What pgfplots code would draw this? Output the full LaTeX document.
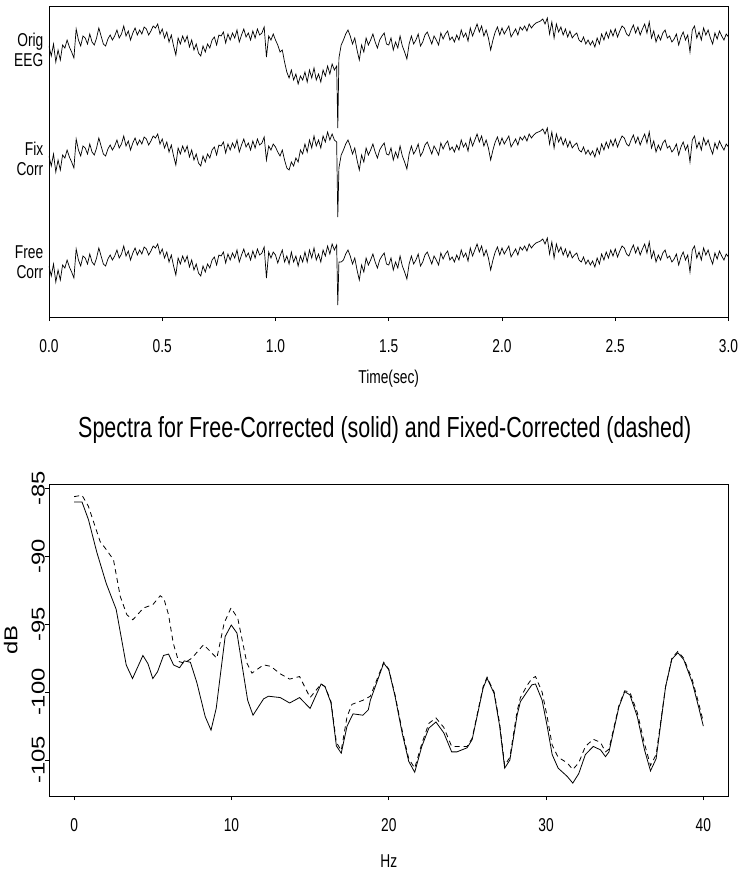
\documentclass[border=0pt]{standalone}
\usepackage{fontspec}
\setmainfont{Liberation Sans}[FakeStretch=0.74]
\newfontfamily\rotfont{Liberation Sans}[FakeStretch=1.28]
\usepackage{pgfplots}
\usepackage{pgfplotstable}
\pgfplotsset{compat=1.18}
\newcommand{\lab}{\fontsize{18.6}{20}\selectfont}
\newcommand{\rlab}{\rotfont\fontsize{18.6}{20}\selectfont}

\pgfplotstableread{
t o f r
0.00 46 156 266
0.01 56 166 276
0.02 44 154 264
0.03 62 172 282
0.04 50 160 270
0.05 60 170 280
0.06 45 155 265
0.07 48 158 268
0.08 40 150 260
0.09 47 157 267
0.10 52 162 272
0.11 58 168 278
0.12 29 139 249
0.13 40 150 260
0.14 46 156 266
0.15 36 146 256
0.16 38 148 258
0.17 44 154 264
0.18 34 144 254
0.19 42 152 262
0.20 45 155 265
0.21 38 148 258
0.22 28 138 248
0.23 36 146 256
0.24 44 154 264
0.25 46 156 266
0.26 39 149 259
0.27 35 145 255
0.28 40 150 260
0.29 36 146 256
0.30 30 140 250
0.31 38 148 258
0.32 34 144 254
0.33 26 136 246
0.34 36 146 256
0.35 31 141 251
0.36 40 150 260
0.37 33 143 253
0.38 28 138 248
0.39 35 145 255
0.40 30 140 250
0.41 34 144 254
0.42 27 137 247
0.43 29 139 249
0.44 35 145 255
0.45 31 141 251
0.46 26 136 246
0.47 28 138 248
0.48 24 134 244
0.49 34 144 254
0.50 29 139 249
0.51 38 148 258
0.52 32 142 252
0.53 42 152 262
0.54 35 145 255
0.55 46 156 266
0.56 55 165 275
0.57 38 148 258
0.58 44 154 264
0.59 36 146 256
0.60 42 152 262
0.61 36 146 256
0.62 47 157 267
0.63 40 150 260
0.64 50 160 270
0.65 44 154 264
0.66 53 163 273
0.67 56 166 276
0.68 46 156 266
0.69 52 162 272
0.70 44 154 264
0.71 48 158 268
0.72 40 150 260
0.73 37 147 257
0.74 45 155 265
0.75 35 145 255
0.76 36 146 256
0.77 32 142 252
0.78 43 153 263
0.79 34 144 254
0.80 40 150 260
0.81 33 143 253
0.82 38 148 258
0.83 30 140 250
0.84 42 152 262
0.85 35 145 255
0.86 29 139 249
0.87 37 147 257
0.88 33 143 253
0.89 40 150 260
0.90 31 141 251
0.91 38 148 258
0.92 29 139 249
0.93 35 145 255
0.94 33 143 253
0.95 27 137 247
0.96 57 160 278
0.97 36 146 252
0.98 40 150 258
0.99 34 144 252
1.00 40 147 255
1.01 45 152 263
1.02 52 156 256
1.03 50 150 250
1.04 62 160 262
1.05 72 168 256
1.06 78 170 264
1.07 70 162 252
1.08 80 166 262
1.09 74 158 256
1.10 84 162 266
1.11 76 150 256
1.12 80 154 262
1.13 72 144 252
1.14 82 152 262
1.15 70 140 250
1.16 78 148 258
1.17 68 136 248
1.18 80 146 260
1.19 74 140 254
1.20 82 148 262
1.21 70 136 250
1.22 76 142 256
1.23 66 132 246
1.24 74 140 254
1.25 64 134 244
1.26 70 140 250
1.27 66 142 245
1.275 128 217 305
1.28 58 168 262
1.29 45 155 262
1.30 40 150 260
1.31 34 144 254
1.32 30 140 250
1.33 36 146 256
1.34 44 154 264
1.35 38 148 258
1.36 50 160 270
1.37 60 170 280
1.38 45 155 265
1.39 52 162 272
1.40 38 148 258
1.41 45 155 265
1.42 40 150 260
1.43 34 144 254
1.44 42 152 262
1.45 48 158 268
1.46 40 150 260
1.47 36 146 256
1.48 33 143 253
1.49 44 154 264
1.50 45 155 265
1.51 38 148 258
1.52 50 160 270
1.53 42 152 262
1.54 48 158 268
1.55 36 146 256
1.56 46 156 266
1.57 52 162 272
1.58 59 169 279
1.59 44 154 264
1.60 36 146 256
1.61 44 154 264
1.62 40 150 260
1.63 34 144 254
1.64 46 156 266
1.65 42 152 262
1.66 35 145 255
1.67 32 142 252
1.68 38 148 258
1.69 44 154 264
1.70 36 146 256
1.71 40 150 260
1.72 45 155 265
1.73 33 143 253
1.74 39 149 259
1.75 34 144 254
1.76 31 141 251
1.77 40 150 260
1.78 37 147 257
1.79 42 152 262
1.80 35 145 255
1.81 40 150 260
1.82 30 140 250
1.83 37 147 257
1.84 33 143 253
1.85 41 151 261
1.86 28 138 248
1.87 36 146 256
1.88 30 140 250
1.89 24 134 244
1.90 32 142 252
1.91 26 136 246
1.92 36 146 256
1.93 30 140 250
1.94 38 148 258
1.95 50 160 270
1.96 40 150 260
1.97 32 142 252
1.98 27 137 247
1.99 35 145 255
2.00 28 138 248
2.01 34 144 254
2.02 30 140 250
2.03 26 136 246
2.04 37 147 257
2.05 33 143 253
2.06 29 139 249
2.07 35 145 255
2.08 27 137 247
2.09 30 140 250
2.10 26 136 246
2.11 31 141 251
2.12 24 134 244
2.13 28 138 248
2.14 25 135 245
2.15 23 133 243
2.16 22 132 242
2.17 21 131 241
2.18 19 129 239
2.19 24 134 244
2.20 18 128 238
2.21 34 144 254
2.22 22 132 242
2.23 38 148 258
2.24 24 134 244
2.25 32 142 252
2.26 27 137 247
2.27 35 145 255
2.28 29 139 249
2.29 37 147 257
2.30 31 141 251
2.31 38 148 258
2.32 35 145 255
2.33 33 143 253
2.34 40 150 260
2.35 42 152 262
2.36 37 147 257
2.37 44 154 264
2.38 40 150 260
2.39 45 155 265
2.40 41 151 261
2.41 47 157 267
2.42 38 148 258
2.43 44 154 264
2.44 34 144 254
2.45 40 150 260
2.46 32 142 252
2.47 38 148 258
2.48 30 140 250
2.49 36 146 256
2.50 29 139 249
2.51 37 147 257
2.52 31 141 251
2.53 26 136 246
2.54 28 138 248
2.55 34 144 254
2.56 36 146 256
2.57 30 140 250
2.58 25 135 245
2.59 33 143 253
2.60 27 137 247
2.61 35 145 255
2.62 29 139 249
2.63 24 134 244
2.64 33 143 253
2.65 22 132 242
2.66 38 148 258
2.67 31 141 251
2.68 42 152 262
2.69 35 145 255
2.70 40 150 260
2.71 33 143 253
2.72 30 140 250
2.73 38 148 258
2.74 36 146 256
2.75 42 152 262
2.76 39 149 259
2.77 34 144 254
2.78 45 155 265
2.79 37 147 257
2.80 32 142 252
2.81 40 150 260
2.82 35 145 255
2.83 52 162 272
2.84 30 140 250
2.85 26 136 246
2.86 38 148 258
2.87 32 142 252
2.88 40 150 260
2.89 28 138 248
2.90 35 145 255
2.91 30 140 250
2.92 38 148 258
2.93 44 154 264
2.94 33 143 253
2.95 39 149 259
2.96 31 141 251
2.97 36 146 256
2.98 40 150 260
2.99 34 144 254
3.00 37 147 257
}\eeg

\pgfplotstableread{
hz db
0.0 -86.0
0.5 -86.0
0.91 -87.3
1.44 -89.7
2.04 -92.0
2.67 -93.9
3.31 -98.0
3.71 -99.0
4.37 -97.3
4.69 -97.9
5.0 -99.0
5.3 -98.5
5.68 -97.3
6.0 -97.2
6.32 -98.0
6.7 -98.2
7.0 -97.7
7.39 -97.8
7.8 -99.3
8.33 -101.8
8.7 -102.8
9.03 -101.2
9.6 -95.9
9.99 -95.06
10.35 -95.65
11.03 -100.6
11.37 -101.7
12.04 -100.5
12.35 -100.3
13.1 -100.4
13.7 -100.8
14.33 -100.4
15.0 -101.2
15.7 -99.4
15.95 -99.6
16.33 -100.8
16.67 -103.96
16.98 -104.5
17.35 -102.5
17.73 -101.6
18.36 -101.7
18.7 -101.3
18.83 -100.6
19.68 -97.86
20.0 -98.35
20.4 -100.3
20.85 -103.0
21.27 -105.1
21.65 -105.9
22.1 -104.0
22.55 -102.65
23.0 -102.2
23.5 -103.0
24.0 -104.4
24.33 -104.4
24.98 -104.1
25.3 -103.5
26.0 -99.7
26.25 -98.97
26.7 -100.1
27.05 -102.5
27.37 -105.6
27.7 -105.0
28.16 -101.7
28.37 -100.7
28.8 -99.96
29.1 -99.46
29.33 -99.4
29.75 -100.6
30.07 -102.5
30.39 -104.6
30.77 -105.6
31.34 -106.2
31.7 -106.7
32.08 -106.0
32.5 -104.6
33.0 -104.0
33.46 -104.25
33.78 -104.75
34.0 -104.4
34.63 -101.1
35.0 -99.96
35.33 -100.2
35.8 -101.8
36.26 -104.25
36.64 -105.8
37.0 -104.9
37.6 -99.6
38.0 -97.57
38.38 -97.1
38.75 -97.6
39.3 -99.3
39.7 -101.1
40.0 -102.5
}\freespec

\pgfplotstableread{
hz db
0.0 -85.6
0.5 -85.5
0.9 -86.3
1.19 -87.3
1.65 -88.9
2.04 -89.5
2.5 -90.25
2.93 -92.95
3.35 -94.3
3.73 -94.67
4.41 -93.8
5.0 -93.56
5.47 -92.9
5.7 -93.1
6.0 -94.3
6.3 -96.4
6.64 -97.74
7.0 -97.86
7.48 -97.5
8.23 -96.5
8.65 -97.0
9.07 -97.5
9.54 -94.9
9.97 -93.8
10.4 -94.55
10.98 -97.86
11.3 -98.6
12.04 -97.99
12.5 -98.1
13.1 -98.65
13.7 -99.04
14.33 -98.85
15.0 -100.4
15.7 -99.4
15.95 -99.6
16.33 -100.7
16.67 -103.7
16.98 -104.3
17.35 -101.8
17.66 -100.9
18.36 -100.6
18.83 -100.3
19.68 -97.8
20.0 -98.3
20.4 -100.2
20.85 -102.8
21.27 -104.9
21.65 -105.6
22.1 -103.8
22.55 -102.3
23.0 -101.9
23.5 -102.6
24.0 -104.0
24.33 -104.0
24.98 -104.0
25.3 -103.4
26.0 -99.6
26.25 -98.9
26.7 -100.0
27.05 -102.3
27.37 -105.4
27.7 -104.8
28.16 -101.4
28.37 -100.4
28.8 -99.5
29.1 -99.0
29.33 -98.85
29.75 -100.0
30.07 -101.8
30.39 -103.9
30.77 -104.8
31.34 -105.2
31.7 -105.7
32.08 -105.2
32.5 -104.0
33.0 -103.47
33.46 -103.7
33.78 -104.4
34.0 -104.2
34.63 -101.0
35.0 -99.9
35.33 -100.0
35.8 -101.5
36.26 -103.8
36.64 -105.4
37.0 -104.6
37.6 -99.6
38.0 -97.5
38.38 -97.0
38.75 -97.5
39.3 -99.1
39.7 -100.8
40.0 -102.2
}\fixspec

\begin{document}
\begin{tikzpicture}
\useasboundingbox (0,0) rectangle (739pt,871pt);
% top panel: EEG traces
\begin{axis}[
  at={(49pt,554pt)}, anchor=south west,
  scale only axis, width=679.5pt, height=311pt,
  xmin=0, xmax=3, ymin=6, ymax=317, y dir=reverse,
  axis line style={line width=0.9pt},
  tick align=outside, major tick length=4pt,
  tick style={line width=0.8pt, black},
  xtick={0,0.5,1,1.5,2,2.5,3},
  xticklabels={0.0,0.5,1.0,1.5,2.0,2.5,3.0},
  xtick pos=bottom,
  xticklabel style={font=\lab, anchor=base, inner sep=0pt, yshift=-31pt},
  ytick={50,159,262},
  yticklabels={{Orig\\EEG},{Fix\\Corr},{Free\\Corr}},
  ytick style={draw=none},
  yticklabel style={font=\lab, align=right, anchor=east, inner sep=0pt, xshift=-1.5pt},
  xlabel={Time(sec)},
  xlabel style={font=\lab, at={(axis description cs:0.5,0)}, anchor=base, yshift=-66pt},
]
\addplot[black, line width=0.7pt] table[x=t, y=o] {\eeg};
\addplot[black, line width=0.7pt] table[x=t, y=f] {\eeg};
\addplot[black, line width=0.7pt] table[x=t, y=r] {\eeg};
\end{axis}
% bottom panel: spectra
\begin{axis}[
  at={(49pt,75pt)}, anchor=south west,
  scale only axis, width=679.5pt, height=312pt,
  xmin=-1.6, xmax=41.6, ymin=-107.65, ymax=-84.67,
  axis line style={line width=0.9pt},
  tick align=outside, major tick length=4pt,
  tick style={line width=0.8pt, black},
  xtick={0,10,20,30,40}, xticklabels={0,10,20,30,40},
  xtick pos=bottom, ytick pos=left,
  xticklabel style={font=\lab, anchor=base, inner sep=0pt, yshift=-31pt},
  ytick={-105,-100,-95,-90,-85},
  yticklabels={-105,-100,-95,-90,-85},
  yticklabel style={font=\rlab, rotate=90, anchor=south, inner sep=0pt},
  xlabel={Hz},
  xlabel style={font=\lab, at={(axis description cs:0.5,0)}, anchor=base, yshift=-71pt},
  ylabel={dB},
  ylabel style={font=\rlab, inner sep=0pt, at={(axis description cs:-0.046,0.5)}, anchor=south},
  title={Spectra for Free-Corrected (solid) and Fixed-Corrected (dashed)},
  title style={font=\fontsize{29}{32}\selectfont, at={(axis description cs:0.5,1)}, anchor=base, yshift=40pt, xshift=-4pt},
]
\addplot[black, line width=0.8pt] table[x=hz, y=db] {\freespec};
\addplot[black, line width=0.8pt, dash pattern=on 5pt off 4pt] table[x=hz, y=db] {\fixspec};
\end{axis}
\end{tikzpicture}
\end{document}
